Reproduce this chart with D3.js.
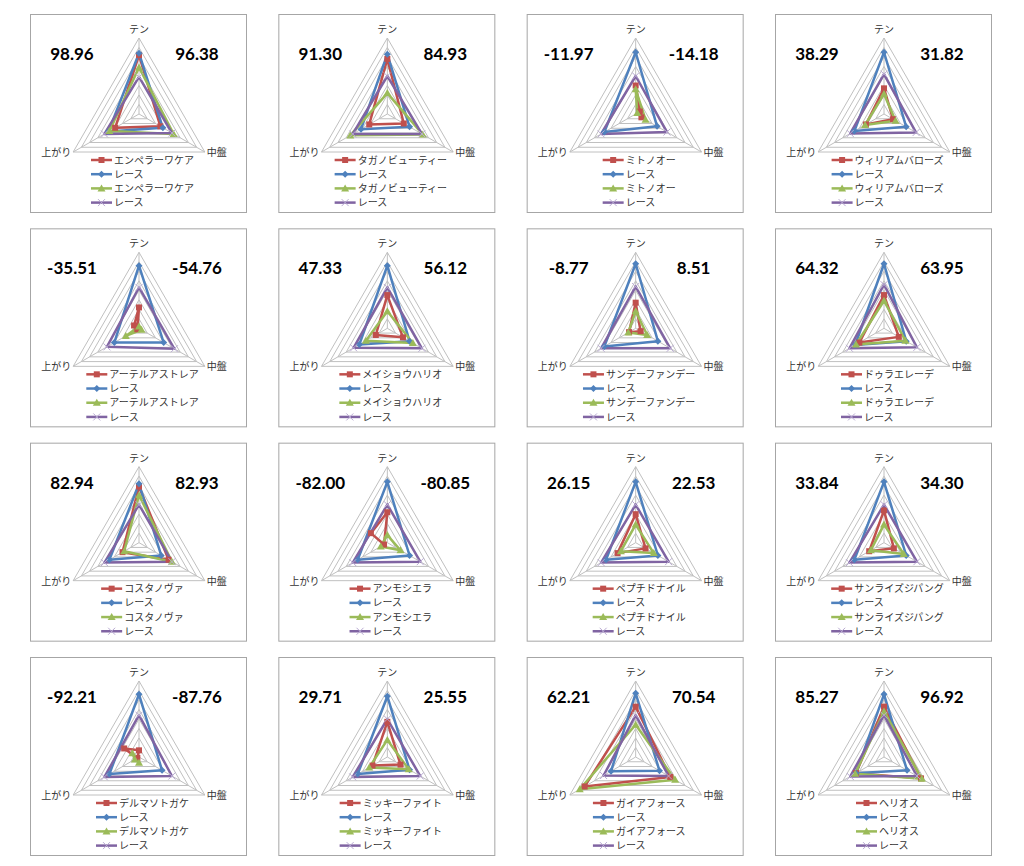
<!DOCTYPE html>
<html><head><meta charset="utf-8">
<script src="https://cdn.jsdelivr.net/npm/d3@7"></script>
<style>body{margin:0;background:#fff;} svg{display:block}</style>
</head><body><svg id="c" width="1024" height="866"></svg>
<script>
// ---- data ----
const axes = ["テン", "中盤", "上がり"];
const horses = ["エンペラーワケア","タガノビューティー","ミトノオー","ウィリアムバローズ",
  "アーテルアストレア","メイショウハリオ","サンデーファンデー","ドゥラエレーデ",
  "コスタノヴァ","アンモシエラ","ペプチドナイル","サンライズジパング",
  "デルマソトガケ","ミッキーファイト","ガイアフォース","ヘリオス"];
const raceLabel = "レース";
const leftScores = ["98.96","91.30","-11.97","38.29","-35.51","47.33","-8.77","64.32",
  "82.94","-82.00","26.15","33.84","-92.21","29.71","62.21","85.27"];
const rightScores = ["96.38","84.93","-14.18","31.82","-54.76","56.12","8.51","63.95",
  "82.93","-80.85","22.53","34.30","-87.76","25.55","70.54","96.92"];
// values per horse: [テン, 中盤, 上がり]
const horseRunA = [[62,26,29],[58,20,22],[30,7,-5],[27,11,22],[22,-6,2],[35,19,14],[27,6,8],[35,18,30],
  [59,36,20],[32,-20,4],[30,12,22],[34,12,18],[7,-18,2],[37,16,18],[53,42,62],[53,45,34]];
const raceA = [[64,29,37],[63,27,32],[65,26,38],[65,27,36],[66,30,30],[66,27,34],[68,27,38],[68,27,35],
  [62,27,36],[64,27,36],[64,27,36],[64,27,36],[66,28,36],[64,27,36],[67,29,30],[66,28,34]];
const horseRunB = [[49,42,36],[22,43,45],[26,12,-2],[21,14,23],[2,3,16],[18,31,26],[18,14,9],[29,26,34],
  [50,40,18],[8,16,8],[19,22,18],[19,24,16],[-6,-8,5],[18,26,22],[34,48,68],[48,46,35]];
const raceB = [[39,40,42],[40,42,42],[40,38,42],[42,39,41],[43,43,39],[43,42,41],[44,42,42],[46,40,42],
  [40,40,42],[40,40,42],[40,40,42],[40,40,42],[44,40,42],[40,40,42],[44,40,39],[44,40,41]];
const ringTicks = [10,20,30,40,50,60,70,80];

// ---- layout ----
const svg = d3.select("#c");
const PW = 216, PH = 198, R = 76;
const colX = d3.scaleLinear().domain([0,3]).range([30, 775]);
const rowY = d3.scaleLinear().domain([0,3]).range([14, 657]);
const rScale = d3.scaleLinear().domain([0,80]).range([0,R]);
const angle = d3.scaleLinear().domain([0,3]).range([0, 2*Math.PI]);
const line = d3.lineRadial().angle((d,i)=>angle(i)).radius(d=>rScale(d)).curve(d3.curveLinearClosed);
const pt = (v,i)=>{const a=angle(i), r=rScale(v); return [r*Math.sin(a), -r*Math.cos(a)];};

const styles = [
  {color:"#C0504D", marker:"square"},
  {color:"#4F81BD", marker:"diamond"},
  {color:"#9BBB59", marker:"triangle"},
  {color:"#8064A2", marker:"x"}
];
const jpFont = "'Noto Sans CJK JP', sans-serif";

function drawMarker(g, type, color, x, y, legend){
  if(type==="square"){
    g.append("rect").attr("x",x-3).attr("y",y-3).attr("width",6).attr("height",6).attr("fill",color);
  } else if(type==="diamond"){
    g.append("path").attr("d",`M${x},${y-3.5}L${x+3.5},${y}L${x},${y+3.5}L${x-3.5},${y}Z`).attr("fill",color);
  } else if(type==="triangle"){
    g.append("path").attr("d",`M${x},${y-4}L${x+4},${y+3}L${x-4},${y+3}Z`).attr("fill",color);
  } else {
    g.append("path").attr("d",`M${x-3.5},${y-3.5}L${x+3.5},${y+3.5}M${x+3.5},${y-3.5}L${x-3.5},${y+3.5}`)
      .attr("stroke","#b9aad2").attr("stroke-width",1).attr("fill","none");
  }
}

horses.forEach((name, k)=>{
  const col = k%4, row = Math.floor(k/4);
  const g = svg.append("g").attr("transform",`translate(${colX(col)},${rowY(row)})`);
  g.append("rect").attr("x",0.5).attr("y",0.5).attr("width",PW).attr("height",PH)
    .attr("fill","#fff").attr("stroke","#a6a6a6").attr("stroke-width",1);
  const cx = 109, cy = 100;
  const rg = g.append("g").attr("transform",`translate(${cx},${cy})`);
  // grid rings
  ringTicks.forEach(t=>{
    rg.append("path").attr("d", line([t,t,t])).attr("fill","none").attr("stroke","#c0c0c0").attr("stroke-width",1);
  });
  // spokes
  axes.forEach((a,i)=>{
    const [x,y] = pt(80,i);
    rg.append("line").attr("x1",0).attr("y1",0).attr("x2",x).attr("y2",y).attr("stroke","#c0c0c0").attr("stroke-width",1);
  });
  // axis labels
  const [tx,ty] = pt(80,0), [mx,my] = pt(80,1), [ax,ay] = pt(80,2);
  rg.append("text").attr("x",tx).attr("y",ty-5).attr("text-anchor","middle").text(axes[0])
    .attr("font-family",jpFont).attr("font-size",10).attr("fill","#333");
  rg.append("text").attr("x",mx+2).attr("y",my+4).attr("text-anchor","start").text(axes[1])
    .attr("font-family",jpFont).attr("font-size",10).attr("fill","#333");
  rg.append("text").attr("x",ax-2).attr("y",ay+4).attr("text-anchor","end").text(axes[2])
    .attr("font-family",jpFont).attr("font-size",10).attr("fill","#333");
  // series
  const series = [horseRunA[k], raceA[k], horseRunB[k], raceB[k]];
  series.forEach((vals, s)=>{
    rg.append("path").attr("d", line(vals)).attr("fill","none")
      .attr("stroke", styles[s].color).attr("stroke-width",2.5).attr("stroke-linejoin","round");
  });
  series.forEach((vals, s)=>{
    vals.forEach((v,i)=>{const [x,y]=pt(v,i); drawMarker(rg, styles[s].marker, styles[s].color, x, y);});
  });
  // scores
  g.append("text").attr("x",42).attr("y",46).attr("text-anchor","middle").text(leftScores[k])
    .attr("font-family","Lato, sans-serif").attr("font-weight","bold").attr("font-size",17).attr("fill","#000");
  g.append("text").attr("x",167).attr("y",46).attr("text-anchor","middle").text(rightScores[k])
    .attr("font-family","Lato, sans-serif").attr("font-weight","bold").attr("font-size",17).attr("fill","#000");
  // legend
  const labels = [name, raceLabel, name, raceLabel];
  const lg = g.append("g");
  const tmp = lg.append("text").attr("font-family",jpFont).attr("font-size",10).text(name);
  const tw = tmp.node().getComputedTextLength(); tmp.remove();
  const lx = cx - (22 + tw)/2 + 3;
  labels.forEach((lab, s)=>{
    const y = 146 + s*14.2;
    lg.append("line").attr("x1",lx).attr("x2",lx+21).attr("y1",y).attr("y2",y)
      .attr("stroke",styles[s].color).attr("stroke-width",2.5);
    drawMarker(lg, styles[s].marker, styles[s].color, lx+10.5, y);
    lg.append("text").attr("x",lx+23).attr("y",y+3.6).text(lab)
      .attr("font-family",jpFont).attr("font-size",10).attr("fill","#333");
  });
});
</script></body></html>
